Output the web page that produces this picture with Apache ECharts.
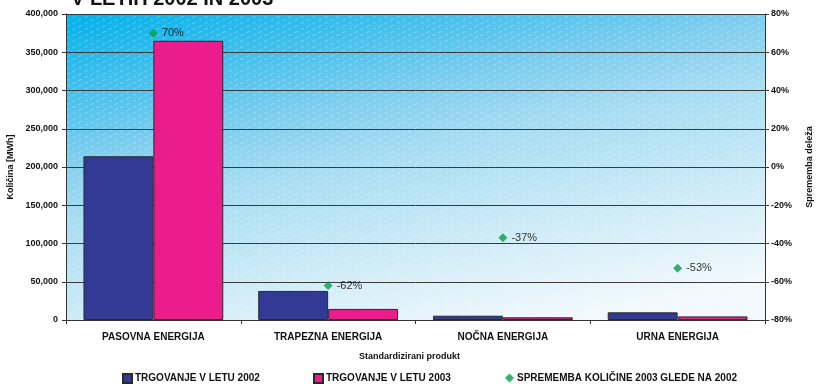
<!DOCTYPE html>
<html>
<head>
<meta charset="utf-8">
<script src="https://cdn.jsdelivr.net/npm/echarts@6/dist/echarts.min.js"></script>
<style>
  html, body { margin: 0; padding: 0; background: #ffffff; }
  #chart { width: 819px; height: 384px; }
</style>
</head>
<body>
<div id="chart"></div>
<script>
// Trading volume by standardized product, 2002 vs 2003
const categories = ['PASOVNA ENERGIJA', 'TRAPEZNA ENERGIJA', 'NOČNA ENERGIJA', 'URNA ENERGIJA'];
const trade2002 = [214000, 38000, 5600, 10000];
const trade2003 = [365000, 14500, 3500, 4700];
const changePct = [70, -62, -37, -53];

const seriesNames = ['TRGOVANJE V LETU 2002', 'TRGOVANJE V LETU 2003', 'SPREMEMBA KOLIČINE 2003 GLEDE NA 2002'];
const titleText = 'V LETIH 2002 IN 2003';

const FONT = "'Liberation Sans', Arial, sans-serif";
const GRID = { left: 66, right: 54, top: 14, bottom: 64 };
const W = 819, H = 384;

// subtle diagonal dashed hatch laid over the plot background
function hatchPattern() {
  const c = document.createElement('canvas');
  c.width = 12; c.height = 6;
  const g = c.getContext('2d');
  g.strokeStyle = 'rgba(255,255,255,0.25)';
  g.lineWidth = 1;
  g.beginPath();
  g.moveTo(0, 6); g.lineTo(4, 4);
  g.moveTo(6, 3); g.lineTo(10, 1);
  g.stroke();
  return c;
}

const chart = echarts.init(document.getElementById('chart'), null, { renderer: 'canvas' });

const legendCommon = {
  top: 373,
  padding: 0,
  itemWidth: 9,
  itemHeight: 9,
  itemGap: 0,
  textStyle: { fontFamily: FONT, fontSize: 10, fontWeight: 'bold', color: '#111', padding: [0, 0, 0, -2] }
};

chart.setOption({
  animation: false,
  backgroundColor: '#ffffff',
  title: {
    text: titleText,
    left: 66,
    top: -16,
    textStyle: { fontFamily: FONT, fontSize: 20, fontWeight: 900, color: '#111' }
  },
  grid: {
    left: GRID.left, right: GRID.right, top: GRID.top, bottom: GRID.bottom,
    outerBoundsMode: 'none',
    containLabel: false,
    show: true,
    borderWidth: 0,
    backgroundColor: {
      type: 'linear', x: 0, y: 0, x2: 0.113, y2: 1.28,
      colorStops: [
        { offset: 0, color: '#00b1ea' },
        { offset: 0.35, color: '#7dcdee' },
        { offset: 0.5, color: '#a6dcf2' },
        { offset: 0.75, color: '#cdebf7' },
        { offset: 1, color: '#f2f9fd' }
      ]
    }
  },
  graphic: [{
    type: 'rect',
    z: 0,
    silent: true,
    shape: { x: GRID.left, y: GRID.top, width: W - GRID.left - GRID.right, height: H - GRID.top - GRID.bottom },
    style: { fill: { image: hatchPattern(), repeat: 'repeat' } }
  }],
  legend: [
    Object.assign({ left: 122, data: [{ name: seriesNames[0], icon: 'rect' }] }, legendCommon),
    Object.assign({ left: 313, data: [{ name: seriesNames[1], icon: 'rect' }] }, legendCommon),
    Object.assign({ left: 505, data: [{ name: seriesNames[2], icon: 'diamond' }] }, legendCommon)
  ],
  xAxis: {
    type: 'category',
    data: categories,
    name: 'Standardizirani produkt',
    nameLocation: 'middle',
    nameGap: 32,
    nameTextStyle: { fontFamily: FONT, fontSize: 9, fontWeight: 'bold', color: '#111', padding: [0, 12, 0, 0] },
    axisLine: { lineStyle: { color: '#333', width: 1 } },
    axisTick: { show: true, length: 4, lineStyle: { color: '#333' } },
    axisLabel: { fontFamily: FONT, fontSize: 10, fontWeight: 'bold', color: '#111', margin: 12 }
  },
  yAxis: [{
    type: 'value',
    min: 0, max: 400000, interval: 50000,
    name: 'Količina [MWh]',
    nameLocation: 'middle',
    nameGap: 48,
    nameTextStyle: { fontFamily: FONT, fontSize: 9, fontWeight: 'bold', color: '#111' },
    axisLine: { show: true, lineStyle: { color: '#333', width: 1 } },
    axisTick: { show: true, length: 4, lineStyle: { color: '#333' } },
    axisLabel: {
      fontFamily: FONT, fontSize: 9, fontWeight: 'bold', color: '#111', margin: 8,
      formatter: v => v.toLocaleString('en-US')
    },
    splitLine: { show: true, lineStyle: { color: '#3a3a3a', width: 1 } }
  }, {
    type: 'value',
    min: -80, max: 80, interval: 20,
    name: 'Sprememba deleža',
    nameLocation: 'middle',
    nameGap: 40,
    nameRotate: 90,
    nameTextStyle: { fontFamily: FONT, fontSize: 9, fontWeight: 'bold', color: '#111' },
    axisLine: { show: true, lineStyle: { color: '#333', width: 1 } },
    axisTick: { show: true, length: 4, lineStyle: { color: '#333' } },
    axisLabel: { fontFamily: FONT, fontSize: 9, fontWeight: 'bold', color: '#111', margin: 6, formatter: '{value}%' },
    splitLine: { show: false }
  }],
  series: [{
    name: seriesNames[0],
    type: 'bar',
    data: trade2002,
    barGap: '0%',
    barCategoryGap: '20%',
    itemStyle: { color: '#333a95', borderColor: '#2a2a2a', borderWidth: 1 }
  }, {
    name: seriesNames[1],
    type: 'bar',
    data: trade2003,
    itemStyle: { color: '#ec1c8c', borderColor: '#2a2a2a', borderWidth: 1 }
  }, {
    name: seriesNames[2],
    type: 'scatter',
    yAxisIndex: 1,
    data: changePct,
    symbol: 'diamond',
    symbolSize: 9,
    z: 5,
    itemStyle: { color: '#05a04b' },
    label: {
      show: true,
      position: 'right',
      distance: 4,
      formatter: p => p.value + '%',
      fontFamily: FONT, fontSize: 11, color: '#000'
    }
  }]
});
</script>
</body>
</html>
